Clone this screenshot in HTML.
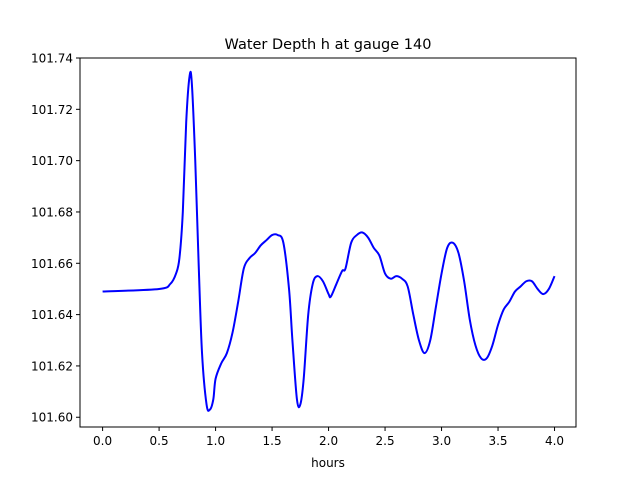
<!DOCTYPE html>
<html><head><meta charset="utf-8"><style>
body{margin:0;background:#fff;}
svg{display:block;font-family:"DejaVu Sans","Liberation Sans",sans-serif;}
</style></head><body>
<svg id="chart" width="640" height="480">
<rect width="640" height="480" fill="#fff"/>
<text x="328" y="49" text-anchor="middle" font-size="14.5">Water Depth h at gauge 140</text>
<g id="plot"></g>
<text x="328" y="467" text-anchor="middle" font-size="12">hours</text>
</svg>
<script>
const hours=[0,0.5,0.6,0.65,0.68,0.71,0.74,0.77,0.79,0.82,0.85,0.88,0.92,0.95,0.98,1.0,1.05,1.1,1.15,1.2,1.25,1.3,1.35,1.4,1.45,1.5,1.55,1.6,1.65,1.68,1.72,1.75,1.78,1.82,1.86,1.9,1.95,2.0,2.02,2.07,2.12,2.15,2.2,2.25,2.3,2.35,2.4,2.45,2.5,2.55,2.6,2.65,2.7,2.75,2.8,2.85,2.9,2.95,3.0,3.05,3.1,3.15,3.2,3.25,3.3,3.35,3.4,3.45,3.5,3.55,3.6,3.65,3.7,3.75,3.8,3.85,3.9,3.95,4.0];
const depth=[101.649,101.650,101.652,101.656,101.662,101.68,101.715,101.733,101.73,101.70,101.66,101.625,101.605,101.603,101.607,101.615,101.621,101.625,101.633,101.645,101.658,101.662,101.664,101.667,101.669,101.671,101.671,101.668,101.65,101.63,101.607,101.605,101.615,101.64,101.652,101.655,101.653,101.648,101.647,101.652,101.657,101.658,101.668,101.671,101.672,101.670,101.666,101.663,101.656,101.654,101.655,101.654,101.651,101.640,101.630,101.625,101.630,101.643,101.656,101.666,101.668,101.664,101.653,101.638,101.628,101.623,101.623,101.628,101.636,101.642,101.645,101.649,101.651,101.653,101.653,101.650,101.648,101.650,101.655];
const xTicks=[0,0.5,1,1.5,2,2.5,3,3.5,4];
const xTickLabels=["0.0","0.5","1.0","1.5","2.0","2.5","3.0","3.5","4.0"];
const yTicks=[101.60,101.62,101.64,101.66,101.68,101.70,101.72,101.74];
const yTickLabels=["101.60","101.62","101.64","101.66","101.68","101.70","101.72","101.74"];

const L=80,R=576,T=58,B=427;
const xMin=-0.2,xMax=4.19,yMin=101.5962,yMax=101.74;
const sx=v=>L+(v-xMin)/(xMax-xMin)*(R-L);
const sy=v=>B-(v-yMin)/(yMax-yMin)*(B-T);
const ns="http://www.w3.org/2000/svg";
const g=document.getElementById('plot');
function mk(tag,attrs){const e=document.createElementNS(ns,tag);for(const k in attrs)e.setAttribute(k,attrs[k]);g.appendChild(e);return e;}

// line (Catmull-Rom smoothed)
const pts=hours.map((h,i)=>[sx(h),sy(depth[i])]);
let d="M"+pts[0][0]+","+pts[0][1];
for(let i=0;i<pts.length-1;i++){
  const p0=pts[Math.max(0,i-1)],p1=pts[i],p2=pts[i+1],p3=pts[Math.min(pts.length-1,i+2)];
  const c1=[p1[0]+(p2[0]-p0[0])/6,p1[1]+(p2[1]-p0[1])/6];
  const c2=[p2[0]-(p3[0]-p1[0])/6,p2[1]-(p3[1]-p1[1])/6];
  d+=" C"+c1+" "+c2+" "+p2;
}
const line=mk('path',{d:d,fill:'none',stroke:'#0000ff','stroke-width':2});



const frame=mk('rect',{x:L,y:T,width:R-L,height:B-T,fill:'none',stroke:'#000','stroke-width':1});



xTicks.forEach((v,i)=>{
  const x=sx(v);
  const t=mk('line',{x1:x,y1:B,x2:x,y2:B+4,stroke:'#000'});
  
  
  const l=mk('text',{x:x,y:B+18,'text-anchor':'middle','font-size':12});
  l.textContent=xTickLabels[i];
  
  
});
yTicks.forEach((v,i)=>{
  const y=sy(v);
  const t=mk('line',{x1:L-4,y1:y,x2:L,y2:y,stroke:'#000'});
  
  
  const l=mk('text',{x:L-7,y:y+4.5,'text-anchor':'end','font-size':12});
  l.textContent=yTickLabels[i];
  
  
});
</script>
</body></html>
